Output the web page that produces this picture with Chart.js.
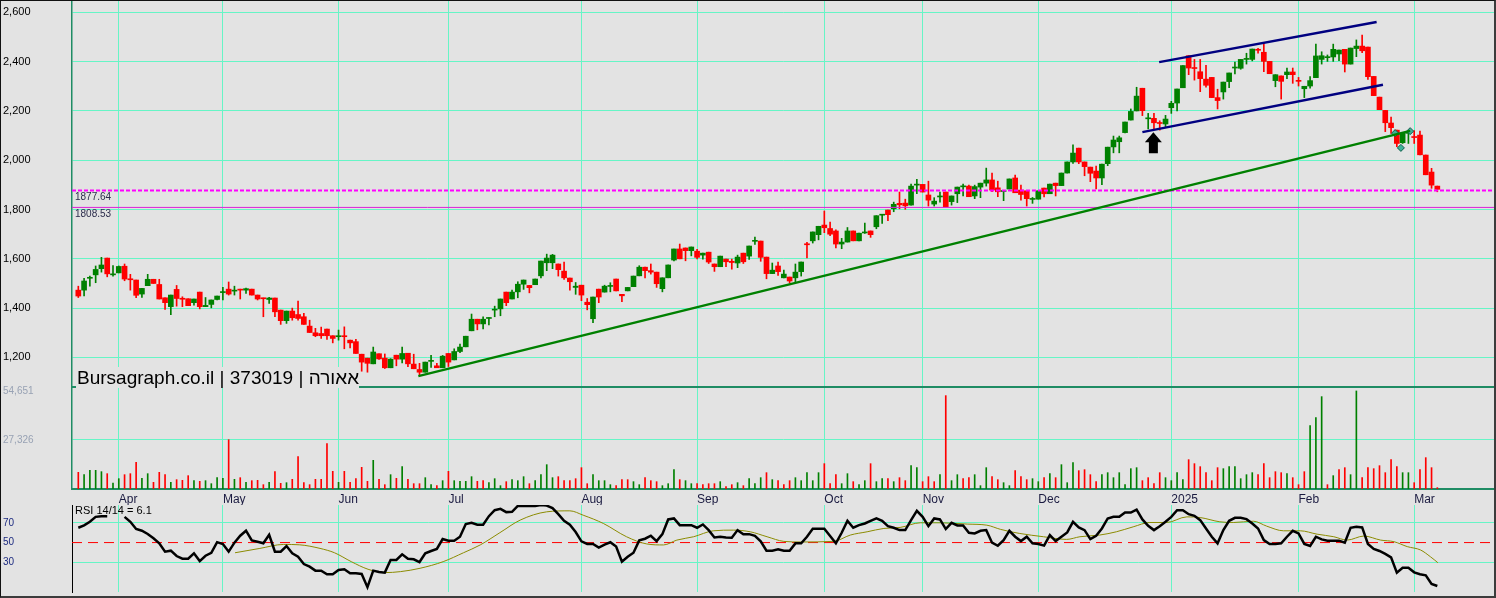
<!DOCTYPE html>
<html><head><meta charset="utf-8">
<script src="https://cdn.jsdelivr.net/npm/chart.js@4.4.1/dist/chart.umd.min.js"></script>
<style>
html,body{margin:0;padding:0;background:#e3e3e3;}
#wrap{position:relative;width:1496px;height:598px;overflow:hidden;background:#e3e3e3;}
canvas{position:absolute;left:0;}
#frame{position:absolute;left:0;top:0;width:1496px;height:598px;box-sizing:border-box;border-top:1px solid #111;border-left:1px solid #111;border-right:2px solid #3c3c3c;border-bottom:2px solid #3c3c3c;pointer-events:none;}
</style></head><body>
<div id="wrap">
<canvas id="price" width="1496" height="389" style="top:0"></canvas>
<canvas id="vol" width="1496" height="127" style="top:378px"></canvas>
<canvas id="rsi" width="1496" height="91" style="top:505px"></canvas>
<div id="frame"></div>
</div>
<script>
// ---------- data ----------
const monthIdx = [7,25,45,64,87,107,129,146,166,189,211,231];
const monthLabels = ['Apr','May','Jun','Jul','Aug','Sep','Oct','Nov','Dec','2025','Feb','Mar'];
const priceTicks = [1200,1400,1600,1800,2000,2200,2400,2600];
const volTicks = [27326,54651];
const rsiTicks = [30,50,70];
const levels = [1877.64,1808.53];
const title = 'Bursagraph.co.il | 373019 | אאורה';

const opens = [
1473,1473,1521,1535,1560,1603,1535,1543,1570,1519,
1514,1457,1491,1517,1496,1442,1406,1476,1439,1438,
1422,1465,1406,1415,1435,1463,1477,1469,1477,1473,
1477,1453,1441,1435,1441,1392,1349,1388,1374,1365,
1327,1300,1297,1315,1288,1284,1288,1270,1264,1213,
1197,1174,1215,1197,1158,1209,1193,1217,1173,1151,
1140,1184,1166,1158,1216,1190,1224,1243,1308,1355,
1336,1358,1392,1397,1465,1437,1466,1497,1492,1495,
1531,1584,1584,1579,1550,1522,1484,1493,1424,1357,
1477,1465,1488,1518,1456,1470,1487,1531,1566,1552,
1546,1479,1523,1595,1640,1644,1633,1631,1615,1627,
1579,1568,1599,1590,1583,1623,1611,1671,1672,1607,
1540,1571,1523,1526,1523,1548,1661,1673,1698,1737,
1723,1713,1660,1668,1713,1673,1705,1713,1730,1777,
1798,1803,1825,1826,1818,1899,1902,1859,1822,1851,
1871,1832,1864,1892,1895,1855,1891,1907,1920,1888,
1873,1883,1928,1879,1876,1841,1842,1887,1864,1907,
1897,1948,1993,2049,1993,1972,1956,1928,1986,2054,
2075,2112,2163,2200,2292,2168,2170,2152,2147,2213,
2232,2294,2424,2376,2359,2329,2336,2254,2277,2319,
2374,2373,2409,2409,2449,2438,2401,2323,2342,2347,
2358,2322,2290,2301,2335,2409,2416,2419,2431,2450,
2390,2453,2463,2459,2340,2256,2202,2151,2122,2071,
2109,2094,2102,2021,1952,1895];
const highs = [
1489,1521,1530,1571,1606,1603,1573,1571,1579,1537,
1514,1480,1537,1517,1517,1442,1453,1492,1446,1438,
1437,1465,1443,1433,1449,1484,1506,1489,1477,1481,
1477,1453,1441,1444,1441,1392,1388,1400,1429,1379,
1351,1318,1323,1315,1288,1311,1324,1270,1273,1213,
1197,1242,1215,1214,1195,1209,1242,1217,1213,1176,
1181,1208,1176,1208,1216,1235,1254,1286,1376,1355,
1365,1362,1408,1437,1465,1473,1507,1514,1492,1518,
1591,1619,1618,1579,1587,1522,1504,1493,1439,1445,
1477,1493,1503,1518,1456,1484,1530,1572,1566,1579,
1546,1523,1575,1640,1660,1644,1648,1638,1623,1627,
1579,1611,1599,1599,1615,1623,1652,1688,1672,1607,
1583,1587,1554,1526,1579,1587,1667,1709,1732,1794,
1749,1718,1683,1727,1713,1704,1745,1713,1775,1780,
1798,1830,1871,1842,1903,1922,1902,1915,1848,1871,
1871,1855,1891,1903,1899,1899,1907,1968,1948,1915,
1876,1924,1940,1899,1876,1849,1876,1887,1903,1907,
1948,1993,2062,2049,1993,1972,1976,1984,2053,2098,
2098,2155,2208,2296,2292,2190,2190,2160,2182,2239,
2289,2384,2424,2409,2409,2385,2336,2288,2317,2354,
2398,2409,2434,2451,2454,2474,2401,2347,2342,2374,
2374,2336,2300,2339,2471,2440,2427,2471,2447,2450,
2455,2488,2508,2459,2340,2256,2202,2175,2122,2109,
2112,2120,2118,2021,1967,1895];
const lows = [
1443,1450,1489,1503,1546,1527,1530,1543,1511,1473,
1442,1443,1491,1500,1437,1395,1373,1408,1406,1410,
1412,1397,1406,1401,1433,1433,1453,1453,1437,1460,
1453,1433,1365,1419,1365,1334,1338,1351,1351,1334,
1301,1284,1277,1273,1259,1270,1235,1239,1216,1144,
1140,1174,1192,1155,1158,1166,1178,1162,1154,1130,
1140,1159,1158,1158,1163,1190,1219,1243,1308,1312,
1316,1332,1365,1369,1410,1437,1442,1476,1462,1495,
1523,1552,1560,1530,1516,1473,1456,1430,1393,1341,
1422,1465,1466,1470,1426,1470,1487,1531,1523,1538,
1484,1466,1523,1591,1600,1592,1612,1600,1599,1581,
1549,1568,1568,1558,1564,1581,1598,1658,1590,1519,
1540,1533,1523,1502,1504,1530,1604,1664,1677,1706,
1694,1644,1641,1668,1673,1673,1703,1687,1722,1744,
1755,1791,1803,1801,1818,1864,1871,1814,1814,1830,
1811,1818,1828,1855,1852,1844,1848,1895,1872,1852,
1836,1883,1868,1838,1814,1825,1842,1851,1864,1855,
1897,1948,1987,1986,1937,1913,1884,1901,1978,2030,
2030,2111,2163,2200,2181,2127,2125,2122,2136,2190,
2200,2294,2347,2325,2278,2296,2254,2208,2248,2294,
2350,2369,2390,2403,2434,2359,2351,2298,2248,2331,
2312,2301,2254,2292,2335,2390,2401,2401,2404,2358,
2390,2420,2436,2328,2262,2205,2116,2109,2055,2068,
2068,2068,2022,1941,1886,1872];
const closes = [
1449,1510,1525,1557,1575,1539,1538,1569,1518,1515,
1452,1480,1517,1500,1437,1422,1453,1439,1436,1410,
1437,1406,1411,1433,1449,1465,1457,1473,1473,1479,
1453,1437,1438,1441,1385,1349,1388,1361,1358,1334,
1301,1288,1288,1288,1277,1288,1284,1259,1216,1181,
1176,1222,1194,1158,1193,1193,1216,1174,1154,1140,
1181,1186,1158,1205,1181,1224,1242,1286,1355,1336,
1355,1362,1396,1437,1422,1465,1497,1514,1483,1518,
1591,1603,1615,1556,1523,1507,1489,1453,1414,1445,
1445,1489,1491,1470,1450,1484,1530,1566,1552,1546,
1499,1523,1575,1640,1600,1633,1648,1606,1623,1587,
1568,1611,1588,1585,1607,1588,1652,1675,1606,1540,
1554,1548,1538,1510,1546,1587,1657,1709,1732,1726,
1700,1660,1668,1713,1673,1704,1707,1698,1775,1780,
1779,1821,1819,1815,1895,1902,1871,1838,1834,1853,
1811,1855,1891,1894,1852,1893,1907,1920,1879,1872,
1875,1924,1868,1861,1844,1844,1876,1864,1903,1897,
1948,1993,2029,1993,1974,1947,1928,1984,2053,2082,
2091,2155,2198,2260,2201,2171,2152,2149,2167,2231,
2289,2384,2374,2372,2331,2304,2254,2242,2317,2354,
2376,2409,2411,2451,2446,2401,2351,2347,2320,2358,
2347,2320,2300,2323,2423,2424,2418,2450,2447,2390,
2455,2463,2444,2339,2262,2205,2152,2132,2068,2109,
2112,2092,2022,1941,1899,1882];
const volumes = [
9300,7990,10410,10410,9670,8550,3350,5760,7990,8550,
14870,5950,8550,3720,9300,7990,3720,5210,4830,7440,
4650,4280,4650,2970,6320,5950,27510,5390,6320,3720,
4650,4830,2420,3720,9670,3160,3530,5390,18030,3530,
2420,5390,5390,25280,9850,3720,9850,3720,5760,12080,
4280,15990,5390,2420,7990,5950,12460,5390,2970,2970,
6320,2420,1860,4650,9850,4650,4280,4280,6880,4280,
4650,3530,5760,1860,4090,5210,4650,6880,2970,4650,
7990,13570,6320,6880,4650,4650,5760,11900,2970,7990,
4650,4650,2420,1860,5210,5210,4090,2420,6320,4650,
4090,1860,2970,10780,5210,4650,2970,2970,2420,2970,
2970,4090,1300,2420,3530,1860,5760,2970,6320,9110,
5210,4650,2420,4650,6320,4650,9110,4650,9110,14130,
2970,7990,2970,8550,4090,2420,4650,14130,4090,5760,
5760,4090,6320,4650,13010,11900,4090,6880,4090,7990,
52050,4650,7990,5760,6320,7990,1860,11900,6880,5210,
3530,1860,10230,6880,5210,5760,4090,6320,8550,6320,
13570,3530,14690,10230,10780,7990,4090,7990,9110,6320,
9110,2420,11340,11900,4650,6320,2970,9110,6320,4650,
9110,5210,16360,14130,12460,9110,4650,11900,11340,12460,
12460,5760,7990,9110,7990,14130,6320,9670,9110,8550,
6320,2420,9670,35320,39780,51490,2420,7440,10780,11900,
7990,54651,6320,11900,11340,13010,9110,16360,12460,9110,
9110,3530,10780,17480,11900,740];
const volumeUp = 'rggggrggrr'+'rggrrrgrrr'+'grggggrgrg'+'rrrgrrgrrr'+'rrrrrgrrrr'+'rgrrgrgrrr'+'ggrgrggggr'+'rgggrgggrg'+
  'gggrrrrrrg'+'gggrrrggrr'+'rgggrggrrr'+'rgrrgrgggr'+'grrrgggggr'+'rrggrggrgg'+'rgrrggrrrg'+'rggrrgggrr'+
  'ggrrrggrgr'+'gggrrrrggg'+'ggggrrrrgg'+'ggrrrrrrgg'+'ggggrrrrrg'+'rrrgggrgrr'+'ggrrrrrrrg'+'grrrrr';
const rsi = [
65,67.4,71,76,76.7,76.7,null,null,76,71,
63.7,62,58.7,54.3,49.3,40.8,41.8,36.4,33.7,33.7,
39.1,31.3,36.7,39.7,50.4,48.5,40.8,49.9,56.9,62,
52.2,50.9,49.3,57.9,40.8,40.8,46.5,39.1,35.7,28.3,
25.6,21.6,21.6,17.9,17.9,22.3,23,18.9,18.9,18.3,
4.9,21.6,20.3,19.6,32.4,32.4,38.1,33.7,33.1,30.3,
39.1,41.5,43.5,53.6,51.8,51.8,55.9,68.7,70,68,
68,76.7,82.7,84.1,80.8,81.1,87.1,87.1,87.1,87.1,
88.1,87.4,84.8,78.7,72,68,60.6,51.2,48.6,48.6,
44.9,47.9,50.3,45.9,30.7,35.7,39.7,52.2,53.9,56.9,
51.5,58.5,73.4,74.4,67.6,67.6,67.6,65,68.3,62.6,
55.2,55.9,55.2,54.8,62.6,58.5,58.5,56.9,51.2,41.8,
41.8,43.1,41.8,41.8,49.2,49.2,55.9,64,64,64,
56.6,49.2,59.9,72,65,67.6,69.3,72,74.4,72,
66.6,65,62.6,62.6,72.7,82.1,76,66.6,74.4,73.4,
63.7,70,67.3,67.3,59.9,59.2,61.9,62.6,49.9,46.8,
52.5,61.9,55.9,51.5,55.9,49.2,48.6,46.9,57.6,51.5,
55.9,60.3,71,65.3,62.6,53.5,56.9,64.3,74.4,76,
76,80.4,80.4,83.4,73.4,67,62.6,66.6,71,76,
82.8,82.8,78.7,77.1,72.7,64.3,55.9,49.2,62.6,72,
75,75,73.7,69.3,64.3,52.5,48.6,48.6,49.2,55.9,
61.9,59.2,48.6,46.6,55.9,53.2,51.9,51.9,51.9,49.8,
65,66,65.3,48.6,43.5,41.5,38.5,35,19.6,24.6,
24.6,19.9,17.9,16.9,8.2,6.1];
const rsiMaX = [27.1,31.4,35.5,38.3,41.8,44.3,47.2,50.1,53,55.7,59.1,63.1,66.6,69.5,72.9,76.4,81,85,87.3,90.8,94.8,98.3,101.2,103.5,106.4,109.8,113.3,116.2,119.1,122,124.9,130.6,133.5,136.4,139.3,142.1,145.6,149.1,153.7,157.1,159.5,162.8,166.9,170.9,173.2,176.6,179.5,182.4,185.3,188.2,191.7,194,197.4,199.8,203.2,205.5,208.4,211.3,214.2,217.1,219.4,222.3,225.2,227.5,229.8,232.1,233.8,235.1];
const rsiMaY = [39.7,44.1,48.1,47.7,44.1,39.7,30.7,23,19.6,20.6,24,30.7,39.7,47.6,60,72.7,81.1,82.1,77.7,69.3,55.9,48.6,47.6,52.5,55.9,61.9,62.6,60.9,55.9,51.2,50.6,51.2,57.6,60.9,64.3,65.3,70,70,68.7,67.6,63.3,59.2,55.9,53.2,55.9,57.6,60.9,65.9,70.3,70.3,76,75.3,71,70.3,71.6,66.6,61.9,61.9,58.5,55.9,52.5,56.6,52.5,50.9,45.9,42.5,35.7,29.6];
const greenTrend = [[58.8,1124],[230.3,2119]];
const channelUpper = [[186.9,2398],[224.5,2561]];
const channelLower = [[184,2114],[225.6,2306]];
const handles = [[227.7,2110],[230.3,2118],[228.7,2050]];
const arrowTip = [185.9,2113];

// ---------- setup ----------
Chart.defaults.font.family = "'Liberation Sans', Arial, sans-serif";
const X_MIN = -1.09, X_MAX = 244.8;
const UP = '#008000', DOWN = '#ff0000', GRID = '#66f5c6', AXIS_G = '#1f8c64', BG = '#e3e3e3';
const N = closes.length;
const idx = Array.from({length:N}, (_, i) => i);
const candleCol = idx.map(i => closes[i] >= opens[i] ? UP : DOWN);
const pad = s => { s.paddingTop = 0; s.paddingBottom = 0; s.paddingLeft = 0; s.paddingRight = 0; };
const fixTicks = vals => s => { s.ticks = vals.map(v => ({value: v})); };
const base = {responsive:false, animation:false, devicePixelRatio:1, events:[],
  plugins:{legend:{display:false}, tooltip:{enabled:false}}};

function xScale(extra) {
  return Object.assign({
    type:'linear', min:X_MIN, max:X_MAX, offset:false,
    afterBuildTicks: fixTicks(monthIdx),
    ticks:{display:false},
    grid:{color:GRID, lineWidth:1, drawTicks:false, offset:false},
    border:{display:false},
    afterFit: s => { s.height = 0; pad(s); }
  }, extra);
}
const seg = (pts, color, w, dash) => ({type:'line', data: pts.map(p => ({x:p[0], y:p[1]})),
  borderColor:color, borderWidth:w, borderDash:dash || [], pointRadius:0, order:0});

const priceDeco = {
  id:'priceDeco',
  afterDatasetsDraw(chart) {
    const {ctx, scales:{x, y}, chartArea} = chart;
    ctx.save();
    ctx.font = "10px 'Liberation Sans', Arial, sans-serif";
    ctx.fillStyle = '#2c2c4c';
    ctx.textBaseline = 'top';
    levels.forEach(lv => ctx.fillText(lv.toFixed(2), chartArea.left + 3, y.getPixelForValue(lv) + 2));
    const ax = x.getPixelForValue(arrowTip[0]), ay = y.getPixelForValue(arrowTip[1]);
    ctx.fillStyle = '#000';
    ctx.beginPath();
    ctx.moveTo(ax, ay); ctx.lineTo(ax + 8.5, ay + 10); ctx.lineTo(ax + 4.5, ay + 10);
    ctx.lineTo(ax + 4.5, ay + 21); ctx.lineTo(ax - 4.5, ay + 21); ctx.lineTo(ax - 4.5, ay + 10);
    ctx.lineTo(ax - 8.5, ay + 10); ctx.closePath(); ctx.fill();
    ctx.restore();
  },
  afterDraw(chart) {
    const {ctx} = chart;
    ctx.save();
    ctx.fillStyle = BG;
    ctx.fillRect(76, 367, 283, 22);
    ctx.font = "19px 'Liberation Sans', Arial, sans-serif";
    ctx.fillStyle = '#000';
    ctx.textBaseline = 'alphabetic';
    ctx.fillText(title, 77, 384);
    ctx.restore();
  }
};

new Chart(document.getElementById('price'), {
  type:'bar',
  data:{datasets:[
    seg(greenTrend, '#008000', 2.5),
    seg(channelUpper, '#000080', 2.5),
    seg(channelLower, '#000080', 2.5),
    {type:'line', data: handles.map(p => ({x:p[0], y:p[1]})), showLine:false, pointStyle:'rectRot',
      pointRadius:3.5, pointBackgroundColor:'#3fb39a', pointBorderColor:'#0d5c48', pointBorderWidth:1, order:0},
    Object.assign(seg([[X_MIN, levels[0]], [X_MAX, levels[0]]], '#ff00ff', 2, [4,2]), {order:1}),
    Object.assign(seg([[X_MIN, levels[1]], [X_MAX, levels[1]]], '#d822d8', 1), {order:1}),
    {type:'bar', data: idx.map(i => ({x:i, y:[opens[i], closes[i]]})), backgroundColor:candleCol,
      barThickness:5, grouped:false, minBarLength:1, order:2},
    {type:'bar', data: idx.map(i => ({x:i, y:[lows[i], highs[i]]})), backgroundColor:candleCol,
      barThickness:1, grouped:false, minBarLength:1, order:3}
  ]},
  options: Object.assign({}, base, {
    layout:{autoPadding:false, padding:{left:3, right:2, top:0, bottom:2}},
    scales:{
      x: xScale({border:{display:true, color:AXIS_G, width:2}}),
      y: {min:1080, max:2650, afterBuildTicks: fixTicks(priceTicks),
        ticks:{crossAlign:'far', padding:0, color:'#000', font:{size:11}, callback: v => v.toLocaleString('en-US')},
        grid:{color:GRID, drawTicks:false},
        border:{color:AXIS_G, width:1.5},
        afterFit: s => { s.width = 69; pad(s); }}
    }
  }),
  plugins:[priceDeco]
});

new Chart(document.getElementById('vol'), {
  type:'bar',
  data:{datasets:[{data: idx.map(i => ({x:i, y:volumes[i]})),
    backgroundColor: idx.map(i => volumeUp[i] === 'g' ? UP : DOWN), barThickness:1, grouped:false}]},
  options: Object.assign({}, base, {
    layout:{autoPadding:false, padding:{left:3, right:2, top:10, bottom:0}},
    scales:{
      x: xScale({
        ticks:{display:true, align:'start', autoSkip:false, maxRotation:0, minRotation:0, padding:3,
          color:'#1a1a40', font:{size:12},
          callback: v => { const k = monthIdx.indexOf(v); return k >= 0 ? monthLabels[k] : ''; }},
        border:{display:true, color:AXIS_G, width:2},
        afterFit: s => { s.height = 16; pad(s); }
      }),
      y: {min:0, max:56300, afterBuildTicks: fixTicks(volTicks),
        ticks:{crossAlign:'far', padding:0, color:'#98a2b4', font:{size:10}, callback: v => v.toLocaleString('en-US')},
        grid:{color: c => (c.tick && c.tick.value === volTicks[0]) ? GRID : 'rgba(0,0,0,0)', drawTicks:false},
        border:{color:AXIS_G, width:1.5},
        afterFit: s => { s.width = 69; pad(s); }}
    }
  })
});

const rsiDeco = {
  id:'rsiDeco',
  afterDraw(chart) {
    const {ctx} = chart;
    ctx.save();
    ctx.font = "11px 'Liberation Sans', Arial, sans-serif";
    ctx.fillStyle = '#000';
    ctx.textBaseline = 'top';
    ctx.fillText('RSI 14/14 = ' + rsi[N - 1], 75, 0);
    ctx.restore();
  }
};

new Chart(document.getElementById('rsi'), {
  type:'line',
  data:{datasets:[
    {data: idx.map(i => ({x:i, y:rsi[i]})), borderColor:'#000', borderWidth:2.5, pointRadius:0,
      spanGaps:false, clip:false, order:0},
    {data: rsiMaX.map((x, k) => ({x, y:rsiMaY[k]})), borderColor:'#8b8b00', borderWidth:1, pointRadius:0,
      cubicInterpolationMode:'monotone', order:1},
    {data:[{x:X_MIN, y:50}, {x:X_MAX, y:50}], borderColor:'#ff0000', borderWidth:1, borderDash:[10,6],
      pointRadius:0, order:2}
  ]},
  options: Object.assign({}, base, {
    layout:{autoPadding:false, padding:{left:3, right:2, top:0, bottom:4}},
    scales:{
      x: xScale({}),
      y: {min:0, max:88, afterBuildTicks: fixTicks(rsiTicks),
        ticks:{crossAlign:'far', padding:0, color:'#1c2a80', font:{size:10}},
        grid:{color: c => (c.tick && c.tick.value === 50) ? 'rgba(0,0,0,0)' : GRID, drawTicks:false},
        border:{color:'#000', width:1},
        afterFit: s => { s.width = 69; pad(s); }}
    }
  }),
  plugins:[rsiDeco]
});
</script>
</body></html>
